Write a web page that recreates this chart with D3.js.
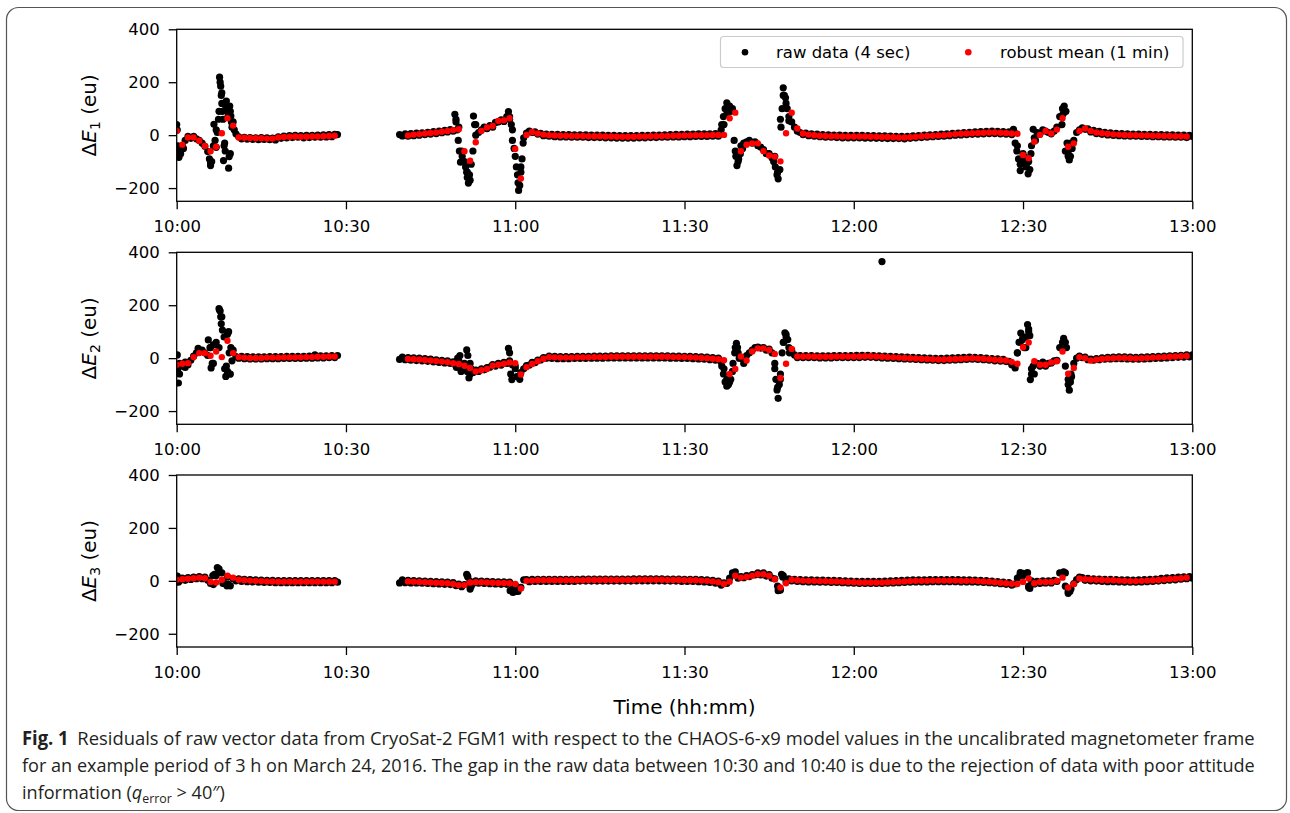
<!DOCTYPE html>
<html>
<head>
<meta charset="utf-8">
<script src="https://cdn.jsdelivr.net/npm/d3@7"></script>
<style>
  body { margin: 0; background: #fff; }
  svg { display: block; }
</style>
</head>
<body>
<div class="d3-chart"></div>
<script>
const width = 1290;
const height = 813;
const plot = {left: 176.7, right: 1192.3, height: 172};
const panelTops = [29.3, 252.3, 475];

// ---- data (minutes after 10:00, residuals in eu) ----
const timeTicks = ["10:00", "10:30", "11:00", "11:30", "12:00", "12:30", "13:00"];
const yTicks = [-200, 0, 200, 400];
const seriesNames = ["raw data (4 sec)", "robust mean (1 min)"];
const componentNames = ["1", "2", "3"];

// raw samples, every 0.5 min: segment A starts 0.0, segment B starts 39.5
const rawStartA = 0, rawStartB = 39.5, rawStep = 0.5;
// 1-min robust means: segment A starts 0, segment B starts 41
const meanStartA = 0, meanStartB = 41;

const rawE1a = [40, -60, -40, -20, -5, -12, -5, -14, -20, -30,
  -42, -62, -105, -40, 20, 90, 160, -30, 100, -70,
  50, 5, -6, -14, -8, -15, -9, -16, -10, -17,
  -9, -16, -10, -17, -11, -18, -6, -12, -4, -10,
  -2, -9, -1, -8, -2, -10, -1, -9, -1, -8,
  0, -8, 1, -7, 2, -6, 3, 2];
const rawE1b = [2, -3, 5, -4, 6, -2, 8, 0, 9, 2, 11, 4, 13, 6, 15, 9, 18, 12, 21, 15,
  60, 30, -60, -100, -140, -170, -60, 40, 10, 20, 30, 25, 36, 30, 48, 50, 58, 52, 70, 60,
  20, -80, -180, -120, -10, 8, 15, 10, 12, 4, 7, -2, 4, -4, 3, -6, 3, -7, 2, -7,
  2, -8, 1, -8, 1, -8, 1, -9, 0, -9, 0, -9, 0, -10, -1, -10, -1, -11, -2, -11,
  -2, -11, -2, -11, -2, -10, -1, -10, -1, -9, 0, -9, 0, -8, 1, -8, 2, -7, 3, -7,
  3, -6, 4, -6, 4, -5, 5, -5, 5, -5, 5, -4, 6, -4, 20, 40, 80, 110, 100, -60,
  -100, -40, -30, -25, -20, -30, -25, -40, -45, -55, -70, -70, -85, -80, -140, 60, 150, 120, 70, 50,
  30, 15, 10, 2, 8, -2, 5, -4, 4, -6, 2, -8, 1, -8, 0, -9, 0, -10, -1, -10,
  -1, -10, -1, -10, -1, -11, -2, -11, -2, -12, -3, -12, -3, -13, -4, -13, -5, -13, -5, -14,
  -5, -12, -3, -10, -2, -9, 0, -8, 1, -6, 2, -5, 4, -4, 5, -2, 7, 0, 8, 1,
  10, 2, 11, 3, 12, 4, 13, 5, 14, 6, 15, 6, 14, 5, 13, 4, 12, 2, 10, -40,
  -110, -70, -120, -100, -40, -10, 10, 5, 20, 15, 10, 5, 15, 30, 70, 100, -60, -80, -30, -20,
  10, 20, 28, 22, 24, 12, 18, 6, 14, 3, 11, 1, 9, -1, 7, -2, 6, -3, 5, -4,
  4, -4, 4, -5, 3, -5, 3, -6, 2, -6, 2, -7, 1, -7, 1, -8, 0, -8, 0, -9,
  -1, -5];
const extraE1 = [[0.1, 20], [0.2, -40], [0.4, -84], [0.7, -70], [1.2, -50], [5.8, -90], [6.0, -115],
  [6.2, -100], [6.6, 41], [6.8, -20], [7.0, -46], [7.2, 10], [7.4, 60], [7.6, 219], [7.7, 200],
  [7.8, 185], [7.9, 150], [8.0, 120], [8.1, 90], [8.2, 60], [8.3, -96], [8.4, -40], [8.6, -60],
  [8.7, 100], [8.8, 129], [8.9, 110], [9.0, 91], [9.1, 70], [9.2, -125], [9.3, -81], [9.4, 110],
  [9.5, 90], [9.6, 72], [9.7, 50], [9.8, 30], [10.2, 20],
  [49.3, 79], [49.5, 50], [49.7, 20], [49.9, -20], [50.1, -60], [50.3, -102], [50.6, -80],
  [51.2, -120], [51.4, -140], [51.5, -160], [51.7, -181], [51.9, -150], [52.2, -110], [52.6, 72],
  [52.8, 40], [53.0, 0], [58.8, 89], [59.0, 70], [59.3, 40], [59.5, -20], [59.8, -50], [60.2, -120],
  [60.4, -150], [60.6, -209], [60.8, -190], [61.0, -140], [61.2, -90], [61.4, -30],
  [96.6, 40], [96.9, 70], [97.2, 100], [97.5, 122], [97.8, 110], [98.2, 90], [98.8, -20],
  [99.1, -80], [99.3, -115], [99.6, -90], [99.9, -70], [100.3, -50], [105.8, -100], [106.1, -120],
  [106.4, -150], [106.6, -165], [106.9, -130], [107.1, 30], [107.3, 100], [107.5, 179],
  [107.7, 150], [107.9, 141], [108.2, 100], [108.5, 54],
  [148.3, 22], [148.6, -30], [148.9, -60], [149.2, -90], [149.5, -134], [149.8, -100],
  [150.3, -84], [150.6, -110], [150.9, -146], [151.2, -130], [151.4, -70], [151.8, 22],
  [152.2, -20], [156.9, 40], [157.1, 80], [157.3, 110], [157.6, 90], [157.8, -30], [158.0, -70],
  [158.2, -94], [158.4, -80], [158.7, -50]];
const meanE1a = [16, -36, -9, -9, -21, -41, -61, -44, 7, 64, 36, -9, -10, -11, -12, -12, -13, -13,
  -9, -7, -6, -5, -6, -6, -5, -5, -4, -3, -2];
const meanE1b = [-1, 2, 4, 6, 8, 10, 13, 16, 19, 22,
  -61, -97, -27, 16, 29, 35, 54, 56, 64, -52,
  -164, 1, 12, 6, 2, 0, -1, -2, -2, -3,
  -3, -3, -4, -4, -4, -5, -5, -6, -6, -6,
  -6, -5, -5, -4, -4, -3, -3, -2, -2, -1,
  -1, 0, 0, 0, 1, 1, 1, 64, 85, -61,
  -36, -31, -31, -61, -77, -81, -99, 7, 85, 25,
  6, 2, 0, -2, -3, -4, -4, -5, -5, -5,
  -5, -5, -6, -6, -7, -7, -8, -9, -9, -8,
  -6, -4, -3, -2, -1, 0, 2, 4, 5, 6,
  7, 8, 9, 10, 10, 9, 8, 6, 5, -75,
  -87, -25, 1, 16, 6, 21, 64, -44, -31, 16,
  25, 16, 10, 7, 5, 3, 2, 1, 0, 0,
  -1, -1, -2, -2, -3, -3, -4, -4, -5];

const rawE2a = [-40, -20, -30, -15, -25, -8, 8, 20, 25, 30,
  20, 10, 40, -20, 60, 40, 156, -40, 90, -60,
  30, 6, 0, 7, -2, 6, -3, 5, -3, 5,
  -3, 5, -2, 6, -2, 6, -2, 6, -1, 7,
  -1, 7, -1, 7, -1, 7, 0, 8, 0, 12,
  1, 9, 1, 9, 2, 10, 2, 10];
const rawE2b = [-5, 4, -6, 2, -8, 1, -9, 0, -10, -2, -12, -4, -14, -6, -16, -8, -18, -10, -20, -14,
  -30, -10, -40, -20, -50, -20, -55, -45, -50, -40, -44, -36, -34, -24, -30, -20, -26, -16, -20, -10,
  -25, -30, -70, -55, -40, -28, -26, -16, -17, -7, -7, 2, 0, 8, -1, 7, -2, 6, -2, 6,
  -2, 6, -1, 7, -1, 7, -1, 7, 0, 8, 0, 8, 0, 8, 1, 9, 1, 9, 1, 9,
  1, 9, 1, 9, 1, 9, 1, 9, 1, 9, 1, 9, 1, 9, 1, 9, 0, 8, 0, 8,
  -1, 7, -1, 7, -2, 6, -3, 5, -4, 4, -6, 2, -8, 0, -15, -40, -80, -90, -50, 40,
  20, 0, -20, 10, 20, 30, 40, 42, 38, 40, 30, 34, 20, -20, -110, -60, 60, 90, 40, 30,
  12, 2, 10, 2, 10, 2, 10, 2, 9, 1, 9, 1, 9, 1, 10, 2, 10, 2, 10, 2,
  10, 2, 11, 2, 11, 3, 11, 3, 10, 2, 9, 1, 8, 0, 7, -1, 6, -2, 5, -3,
  4, -4, 3, -5, 2, -6, 1, -7, 0, -8, -1, -9, -1, -9, 0, -8, 1, -7, 2, -6,
  3, -5, 4, -4, 3, -5, 2, -6, 0, -8, -2, -10, -3, -11, -5, -13, -12, -25, -30, 20,
  60, 80, 40, 100, -40, -60, -20, -30, -15, -30, -20, -18, -10, -8, 40, 60, -30, -100, -60, -20,
  0, 8, 2, 4, -6, -4, -8, -2, -6, 1, -4, 3, -3, 4, -2, 5, -2, 5, -3, 4,
  -4, 3, -4, 4, -3, 5, -2, 6, -1, 7, 0, 8, 1, 9, 2, 10, 3, 11, 4, 12,
  5, 12];
const extraE2 = [[0.1, 12], [0.2, -40], [0.3, -94], [0.5, -60], [1.5, -35], [3.8, 37], [5.6, 69],
  [5.9, 40], [6.1, -37], [6.3, -20], [6.5, 50], [7.5, 187], [7.6, 182], [7.7, 178], [7.8, 156],
  [7.9, 130], [8.1, 106], [8.4, 80], [8.7, -69], [8.8, -30], [9.0, -50], [9.2, 100], [9.3, 20],
  [9.4, -60], [9.6, 40], [9.8, -10],
  [49.6, -35], [49.8, 0], [50.2, 10], [50.4, -50], [51.4, 31], [51.6, 10], [51.8, -75], [52.0, -60],
  [52.2, -40], [58.8, 37], [59.0, 20], [59.2, -60], [59.4, -81], [60.0, -40], [60.3, -70],
  [60.8, -80], [96.6, -30], [96.9, -60], [97.2, -90], [97.5, -106], [97.8, -100], [98.2, -80],
  [98.6, -20], [98.9, 20], [99.2, 56], [99.4, 40], [99.7, 0], [106.0, -40], [106.2, -80],
  [106.4, -120], [106.6, -152], [106.8, -100], [107.0, -80], [107.3, 20], [107.6, 60], [107.8, 96],
  [108.0, 80], [108.3, 70], [108.6, 20], [125.0, 365], [148.6, -37], [149.0, 20], [149.3, 60],
  [149.6, 95], [149.9, 70], [150.2, 40], [150.5, 80], [150.8, 127], [151.0, 110], [151.2, 85],
  [151.3, -81], [151.5, -60], [151.8, -30], [157.2, 75], [157.5, 60], [157.7, 40], [158.0, -80],
  [158.2, -121], [158.4, -90], [158.6, -70]];
const meanE2a = [-25, -21, -19, 4, 19, 19, 9, 25, 4, 66, 19, 4, 2, 1, 1, 1, 2, 2, 2, 3, 3, 3, 3,
  4, 4, 5, 5, 6, 6];
const meanE2b = [-3, -4, -5, -7, -9, -11, -13, -15, -19, -22,
  -29, -37, -50, -46, -41, -29, -25, -21, -16, -19,
  -62, -34, -22, -12, -2, 4, 3, 2, 2, 2,
  3, 3, 3, 4, 4, 4, 5, 5, 5, 5,
  5, 5, 5, 5, 5, 5, 5, 4, 4, 4,
  3, 2, 1, 0, -2, -4, -8, -60, -41, 6,
  -9, 25, 37, 37, 31, 16, -75, -21, 35, 6,
  6, 6, 6, 5, 5, 5, 6, 6, 6, 6,
  6, 7, 7, 6, 5, 4, 3, 2, 1, 0,
  -1, -2, -3, -4, -5, -5, -4, -3, -2, -1,
  0, -1, -2, -4, -6, -7, -9, -14, -21, 41,
  59, -12, -25, -25, -16, -12, 25, -59, -37, 4,
  0, -9, -6, -3, -1, 0, 1, 1, 0, -1,
  0, 1, 2, 3, 4, 5, 6, 7, 8];

const rawE3a = [10, 0, 10, 2, 12, 5, 14, 8, 16, 8,
  14, 2, -10, -14, 20, 45, 30, -10, 15, -19,
  8, 0, 8, -2, 6, -3, 5, -4, 4, -5,
  3, -6, 2, -6, 2, -7, 1, -7, 1, -7,
  1, -7, 1, -7, 1, -7, 1, -7, 1, -7,
  1, -7, 1, -7, 1, -7, 1, -5];
const rawE3b = [-8, 4, -7, 2, -8, 1, -8, 0, -9, -1, -10, -2, -11, -3, -12, -4, -13, -5, -14, -7,
  -18, -12, -22, -14, 20, -2, -10, 0, -9, -1, -10, -2, -11, -3, -12, -4, -13, -4, -13, -5,
  -30, -15, -40, -25, 4, 5, -3, 6, -2, 6, -2, 6, -2, 6, -2, 6, -2, 6, -2, 6,
  -2, 6, -2, 6, -1, 7, -1, 7, -1, 7, -1, 7, -1, 7, -1, 7, -1, 7, -1, 7,
  -1, 7, -1, 8, 0, 8, 0, 8, 0, 8, 0, 8, 0, 8, -1, 7, -1, 7, -1, 7,
  -2, 6, -2, 6, -2, 6, -3, 5, -4, 4, -6, 2, -9, -1, -16, -8, -10, 10, 30, 22,
  10, 16, 12, 20, 16, 24, 22, 30, 22, 30, 18, 24, 10, 8, -20, -35, 20, -4, 8, 0,
  6, -2, 5, -3, 4, -4, 4, -4, 3, -5, 3, -5, 2, -6, 2, -6, 1, -7, 0, -8,
  -1, -9, -2, -10, -2, -10, -2, -10, -2, -10, -2, -10, -1, -9, 0, -8, 1, -7, 2, -6,
  3, -5, 4, -4, 4, -4, 4, -4, 5, -3, 5, -3, 5, -3, 5, -3, 5, -3, 5, -4,
  4, -4, 4, -4, 3, -5, 2, -6, 1, -7, -1, -9, -3, -11, -5, -13, -7, -16, -12, 10,
  25, 20, 28, -25, 0, -12, -2, -10, 0, -8, 0, -8, 2, -2, 30, 28, -20, -40, -30, -10,
  5, 14, 12, 2, 9, 0, 8, -1, 7, -2, 6, -3, 6, -3, 5, -4, 4, -5, 4, -5,
  3, -5, 4, -4, 5, -3, 6, -2, 7, -1, 9, 1, 11, 3, 12, 4, 14, 6, 15, 8,
  16, 10];
const extraE3 = [[0.1, 18], [0.3, -5], [6.4, 20], [6.7, 25], [7.2, 50], [7.5, 35], [8.2, -10],
  [8.9, -19], [9.1, -12], [51.4, 25], [51.6, 15], [52.0, -31], [52.2, -20], [59.1, -37],
  [59.6, -44], [60.2, -40], [98.8, 25], [99.0, 34], [106.6, -37], [106.9, -30], [107.2, 25],
  [107.4, 15], [149.5, 31], [150.0, 28], [150.8, 31], [151.0, -20], [151.2, -29], [157.2, 34],
  [157.5, 30], [158.0, -47], [158.3, -40]];
const meanE3a = [4, 6, 8, 10, 12, 10, -4, -6, 4, 19, 12, 4, 2, 1, 0, -1, -2, -2, -3, -3, -3, -3,
  -3, -3, -3, -3, -3, -3, -3];
const meanE3b = [-2, -3, -4, -5, -6, -7, -8, -9, -12, -16,
  -16, -6, -5, -5, -6, -7, -8, -8, -9, -12,
  -29, 0, 1, 2, 2, 2, 2, 2, 2, 2,
  2, 2, 3, 3, 3, 3, 3, 3, 3, 3,
  3, 4, 4, 4, 4, 4, 3, 3, 3, 2,
  2, 2, 1, 0, -2, -5, -12, -3, 19, 12,
  15, 19, 25, 25, 19, 6, -25, -9, 4, 2,
  1, 0, 0, -1, -1, -2, -2, -3, -4, -5,
  -6, -6, -6, -6, -6, -5, -4, -3, -2, -1,
  0, 0, 0, 1, 1, 1, 1, 1, 0, 0,
  0, -1, -2, -3, -5, -7, -9, -11, -12, -4,
  9, -9, -4, -4, -4, 0, 12, -25, -12, 9,
  6, 5, 4, 3, 2, 2, 1, 0, -1, -1,
  0, 1, 2, 3, 5, 7, 8, 10, 12];

const panels = [
  {rawA: rawE1a, rawB: rawE1b, extra: extraE1, meanA: meanE1a, meanB: meanE1b},
  {rawA: rawE2a, rawB: rawE2b, extra: extraE2, meanA: meanE2a, meanB: meanE2b},
  {rawA: rawE3a, rawB: rawE3b, extra: extraE3, meanA: meanE3a, meanB: meanE3b}
];

const parseTime = d3.utcParse("%H:%M");
const t0 = parseTime(timeTicks[0]);
const toDate = t => new Date(t0.getTime() + t * 60000);
const series = (arr, start, step) => arr.map((v, i) => ({t: start + i * step, v}));

const svg = d3.select(".d3-chart")
  .append("svg")
  .attr("width", width)
  .attr("height", height)
  .attr("font-family", "DejaVu Sans, sans-serif");

// outer frame of the figure
svg.append("rect")
  .attr("x", 6.5).attr("y", 7.5)
  .attr("width", 1280).attr("height", 803)
  .attr("rx", 12)
  .attr("fill", "none")
  .attr("stroke", "#555")
  .attr("stroke-width", 1.2);

const x = d3.scaleUtc()
  .domain([t0, parseTime(timeTicks[timeTicks.length - 1])])
  .range([plot.left, plot.right]);

panels.forEach((p, i) => {
  const top = panelTops[i];
  const y = d3.scaleLinear()
    .domain([-250, 400])
    .range([top + plot.height, top]);

  const g = svg.append("g");

  g.append("clipPath").attr("id", "clip" + i)
    .append("rect")
    .attr("x", plot.left).attr("y", top)
    .attr("width", plot.right - plot.left).attr("height", plot.height);

  const marks = g.append("g").attr("clip-path", `url(#clip${i})`);

  const raw = series(p.rawA, rawStartA, rawStep)
    .concat(series(p.rawB, rawStartB, rawStep))
    .concat(p.extra.map(([t, v]) => ({t, v})));
  const means = series(p.meanA, meanStartA, 1).concat(series(p.meanB, meanStartB, 1));

  marks.append("g").selectAll("circle")
    .data(raw)
    .join("circle")
    .attr("cx", d => x(toDate(d.t)))
    .attr("cy", d => y(d.v))
    .attr("r", 3.6)
    .attr("fill", "#000");

  marks.append("g").selectAll("circle")
    .data(means)
    .join("circle")
    .attr("cx", d => x(toDate(d.t)))
    .attr("cy", d => y(d.v))
    .attr("r", 3.2)
    .attr("fill", "#ff0000");

  // axes
  const xAxis = g.append("g")
    .attr("transform", `translate(0,${top + plot.height})`)
    .call(d3.axisBottom(x)
      .tickValues(timeTicks.map(parseTime))
      .tickFormat(d3.utcFormat("%H:%M"))
      .tickSize(8)
      .tickPadding(11));
  const yAxis = g.append("g")
    .attr("transform", `translate(${plot.left},0)`)
    .call(d3.axisLeft(y)
      .tickValues(yTicks)
      .tickSize(8)
      .tickPadding(9));

  [xAxis, yAxis].forEach(a => {
    a.select(".domain").remove();
    a.selectAll(".tick line").attr("stroke", "#000").attr("stroke-width", 1.3);
    a.selectAll(".tick text")
      .attr("fill", "#000")
      .attr("font-size", 16.5)
      .attr("font-family", "DejaVu Sans, sans-serif");
  });

  g.append("rect")
    .attr("x", plot.left).attr("y", top)
    .attr("width", plot.right - plot.left).attr("height", plot.height)
    .attr("fill", "none")
    .attr("stroke", "#000")
    .attr("stroke-width", 1.3);

  const label = g.append("text")
    .attr("transform", `translate(96,${top + plot.height / 2}) rotate(-90)`)
    .attr("text-anchor", "middle")
    .attr("font-size", 20)
    .attr("fill", "#000");
  label.append("tspan").text("Δ");
  label.append("tspan").attr("font-style", "italic").text("E");
  label.append("tspan").attr("font-size", 14).attr("dy", 4).text(componentNames[i]);
  label.append("tspan").attr("dy", -4).text(" (eu)");
});

// legend in the first panel
const legend = svg.append("g");
legend.append("rect")
  .attr("x", 720.5).attr("y", 36.5)
  .attr("width", 462.5).attr("height", 31)
  .attr("rx", 3)
  .attr("fill", "#fff").attr("fill-opacity", 0.8)
  .attr("stroke", "#cccccc").attr("stroke-width", 1.2);
const legendItems = [
  {name: seriesNames[0], color: "#000", mx: 745, tx: 776},
  {name: seriesNames[1], color: "#ff0000", mx: 968.3, tx: 1000}
];
legendItems.forEach(it => {
  legend.append("circle").attr("cx", it.mx).attr("cy", 52.3).attr("r", 3.3).attr("fill", it.color);
  legend.append("text")
    .attr("x", it.tx).attr("y", 52.3).attr("dy", "0.36em")
    .attr("font-size", 16.5)
    .attr("fill", "#000")
    .text(it.name);
});

svg.append("text")
  .attr("x", (plot.left + plot.right) / 2).attr("y", 714)
  .attr("text-anchor", "middle")
  .attr("font-size", 20)
  .attr("fill", "#000")
  .text("Time (hh:mm)");

// caption
const capFont = "'Open Sans', 'Noto Sans', sans-serif";
const capColor = "#231f20";
const cap1 = svg.append("text").attr("x", 22).attr("y", 745)
  .attr("font-family", capFont).attr("font-size", 19).attr("fill", capColor);
cap1.append("tspan").attr("font-weight", "bold").text("Fig. 1");
cap1.append("tspan").attr("dx", 9)
  .text("Residuals of raw vector data from CryoSat-2 FGM1 with respect to the CHAOS-6-x9 model values in the uncalibrated magnetometer frame");

const cap2 = svg.append("text").attr("x", 22).attr("y", 772)
  .attr("font-family", capFont).attr("font-size", 19).attr("fill", capColor)
  .text("for an example period of 3 h on March 24, 2016. The gap in the raw data between 10:30 and 10:40 is due to the rejection of data with poor attitude");

const cap3 = svg.append("text").attr("x", 22).attr("y", 799)
  .attr("font-family", capFont).attr("font-size", 19).attr("fill", capColor);
cap3.append("tspan").text("information (");
cap3.append("tspan").attr("font-style", "italic").text("q");
cap3.append("tspan").attr("font-size", 13).attr("dy", 4).text("error");
cap3.append("tspan").attr("dy", -4).text(" > 40″)");

function fitWidth(sel, target) {
  const len = sel.node().getComputedTextLength();
  const k = target / len;
  sel.attr("transform", `translate(22,0) scale(${k},1) translate(-22,0)`);
  return k;
}
fitWidth(cap1, 1225);
const k2 = fitWidth(cap2, 1233);
cap3.attr("transform", `translate(22,0) scale(${k2},1) translate(-22,0)`);
</script>
</body>
</html>
